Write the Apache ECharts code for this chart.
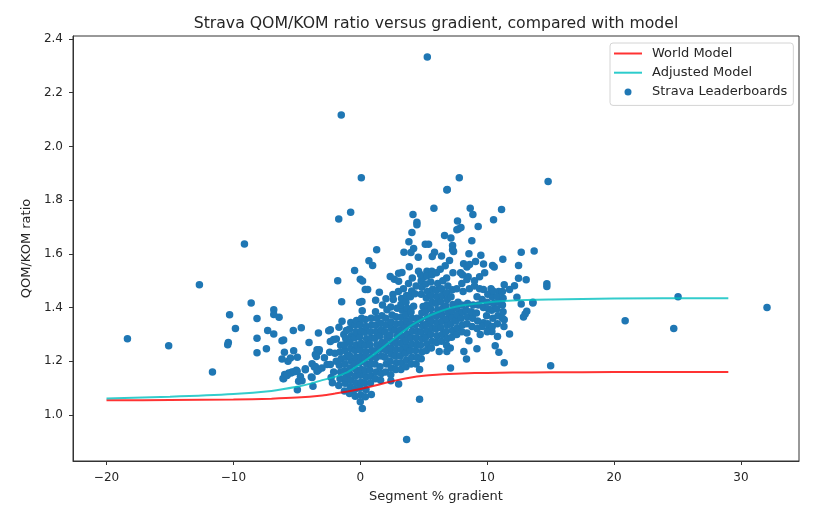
<!DOCTYPE html>
<html><head><meta charset="utf-8">
<style>html,body{margin:0;padding:0;background:#fff}#c{width:839px;height:510px}</style>
<script src="https://cdn.jsdelivr.net/npm/echarts@6/dist/echarts.min.js"></script>
</head><body><div id="c"></div>
<script>
const xTicks=[-20,-10,0,10,20,30];
const yTicks=[1.0,1.2,1.4,1.6,1.8,2.0,2.2,2.4];
const worldModel=[[-20,1.055],[-15,1.056],[-10,1.058],[-7,1.061],[-5,1.065],[-3,1.073],[-2,1.08],[-1,1.088],[0,1.097],[1,1.108],[2,1.12],[3,1.131],[4,1.14],[5,1.146],[6,1.15],[7,1.153],[8,1.155],[10,1.157],[12,1.158],[15,1.159],[20,1.16],[29,1.16]];
const adjustedModel=[[-20,1.062],[-15,1.068],[-10,1.078],[-7,1.09],[-5,1.105],[-4,1.116],[-3,1.13],[-2,1.142],[-1,1.16],[0,1.19],[1,1.223],[2,1.26],[3,1.297],[4,1.333],[5,1.36],[6,1.381],[7,1.397],[8,1.408],[9,1.414],[10,1.419],[12,1.426],[15,1.43],[20,1.434],[29,1.435]];
const outerPoints=[[5.28,2.333],[-1.5,2.117],[.08,1.883],[7.8,1.883],[14.8,1.869],[6.85,1.84],[-9.13,1.637],[-12.68,1.485],[-18.35,1.284],[-15.1,1.258],[-11.65,1.16],[-10.3,1.373],[-9.84,1.322],[-10.4,1.27],[-10.45,1.262],[20.87,1.351],[25.04,1.44],[24.7,1.322],[32.05,1.4],[15,1.184],[13.7,1.611],[13.6,1.42],
[6.82,1.838],[5.8,1.77],[-.76,1.755],[-1.7,1.73],[8.66,1.77],[8.87,1.747],[4.15,1.747],[11.13,1.765],[10.5,1.727],[4.46,1.718],[4.46,1.708],[7.66,1.722],[9.29,1.702],[7.74,1.693],[7.93,1.698],[7.61,1.69],[4.07,1.68],[6.64,1.668],[7.14,1.659],[8.79,1.649],[3.83,1.645],[5.12,1.636],[5.38,1.636],[7.27,1.631],[7.27,1.615],[7.35,1.609],[1.29,1.615],[4.2,1.62],[3.99,1.605],[3.44,1.606],[5.85,1.606],[5.67,1.59],[6.4,1.592],[4.57,1.587],[8.56,1.6],[9.5,1.595],[12.68,1.606],[11.23,1.58],[.68,1.574],[.97,1.557],[7.03,1.575],[6.69,1.556],[6.3,1.543],[8.14,1.563],[8.4,1.551],[8.61,1.56],[9.08,1.572],[9.71,1.562],[10.42,1.557],[10.55,1.551],[12.47,1.557],[3.86,1.552],[-.45,1.538],[3.02,1.528],[3.28,1.531],[4.59,1.535],[5.25,1.535],[5.64,1.535],[2.36,1.516],[2.68,1.506],[3.02,1.498],
[-8.6,1.417],[-8.14,1.359],[-8.14,1.286],[-8.14,1.232],[-7.4,1.247],[-7.3,1.315],[-6.82,1.392],[-6.82,1.374],[-6.4,1.364],[-6.82,1.302],[-6.17,1.277],[-6.04,1.279],[-5.28,1.315],[-4.65,1.325],[-3.3,1.305],[-4.04,1.27],[-5.98,1.234],[-6.17,1.209],[-5.7,1.2],[-5.5,1.212],[-5.25,1.239],[-4.96,1.215],[-2.36,1.318],[-2.49,1.314],[-1.68,1.327],[-1.44,1.349],[-1.78,1.5],[-1.47,1.422],[0,1.506],[.18,1.499],[.39,1.467],[.58,1.467],[1.5,1.457],[-.05,1.42],[.13,1.423],[1.21,1.427],[2.02,1.433],[2.57,1.449],[-2.36,1.274],[-2.1,1.281],[-1.89,1.283],[-3.41,1.243],[-3.28,1.237],[-3.54,1.225],[-2.41,1.234],[-2.83,1.213],[-3.8,1.191],[-3.54,1.181],[-3.28,1.169],[-3.02,1.175],[-2.36,1.188],[-4.33,1.172],[-5.04,1.167],[-5.38,1.16],[-5.64,1.157],[-5.96,1.151],[-6.09,1.136],[-4.72,1.144],[-4.59,1.128],[-3.86,1.142],[-3.73,1.107],[-4.96,1.094],[4.67,1.059],[.16,1.024],[3.65,.909],[.87,1.077],[3.02,1.116],[2.41,1.128],[4.67,1.17],[7.11,1.175],[8.37,1.209],[8.16,1.237],[9.19,1.247],[8.56,1.277],[11.34,1.195],[10.92,1.234],[10.63,1.258],[11.76,1.302],[10.81,1.292],[8.4,1.305],[6.22,1.237],[6.82,1.237],[7.09,1.25],[13.12,1.386],[12.99,1.376],[12.86,1.365],[13.6,1.417],[12.68,1.413],[12.34,1.439],[12.15,1.481],[11.76,1.467],[11.34,1.485],[12.47,1.509],[13.07,1.504],[14.7,1.489],[14.7,1.479],
[4.1,1.51],[5,1.515],[6.8,1.51],[7.9,1.53],[8.5,1.515],[9,1.5],[9.4,1.515],[9.8,1.53],[10.3,1.47],[10.9,1.46],
[-3.23,1.243],[-3.46,1.218],[-3.62,1.179],[-2.62,1.188],[-3.41,1.163],[-6.04,1.135],[-5.77,1.147],[-5.46,1.157],[-5.2,1.161],[-4.98,1.163],[-4.86,1.126],[-4.33,1.169],[-3.8,1.14],
[10.1,1.318],[10.37,1.311],[11.32,1.33],[11.34,1.355],[9.45,1.3],[9.71,1.344]];
const corePoints=[
[-2.3,1.14],[-2.1,1.16],[-2.2,1.12],[-1.9,1.2],[-2,1.23],[-1.7,1.11],[-1.6,1.135],[-1.55,1.16],[-1.65,1.185],[-1.5,1.21],[-1.6,1.235],[-1.55,1.26],[-1.3,1.3],
[-1.25,1.09],[-1.2,1.118],[-1.15,1.14],[-1.25,1.165],[-1.2,1.19],[-1.1,1.215],[-1.2,1.24],[-1.25,1.262],[-1.15,1.285],[-1.1,1.315],
[-.85,1.08],[-.8,1.105],[-.75,1.13],[-.85,1.155],[-.8,1.175],[-.7,1.2],[-.85,1.222],[-.75,1.248],[-.8,1.27],[-.7,1.295],[-.85,1.32],[-.75,1.345],
[-.4,1.07],[-.45,1.095],[-.35,1.12],[-.4,1.145],[-.3,1.168],[-.45,1.192],[-.35,1.215],[-.4,1.24],[-.3,1.262],[-.45,1.288],[-.35,1.31],[-.4,1.335],[-.3,1.352],
[0,1.05],[.05,1.075],[-.05,1.1],[.05,1.122],[0,1.148],[.1,1.17],[-.05,1.195],[.05,1.218],[0,1.242],[.08,1.266],[-.05,1.29],[.05,1.312],[0,1.336],[.1,1.36],[.15,1.388],
[.4,1.068],[.45,1.095],[.35,1.118],[.45,1.142],[.4,1.165],[.5,1.19],[.35,1.212],[.45,1.236],[.4,1.26],[.5,1.284],[.35,1.308],[.45,1.33],[.4,1.356],
[.8,1.12],[.85,1.145],[.75,1.168],[.85,1.192],[.8,1.215],[.9,1.24],[.75,1.262],[.85,1.286],[.8,1.31],[.9,1.335],[.85,1.36],
[1.2,1.135],[1.25,1.16],[1.15,1.19],[1.25,1.214],[1.2,1.238],[1.3,1.262],[1.15,1.286],[1.25,1.31],[1.2,1.334],[1.3,1.36],[1.2,1.385],
[1.6,1.13],[1.65,1.155],[1.55,1.18],[1.65,1.22],[1.6,1.245],[1.7,1.27],[1.55,1.294],[1.65,1.318],[1.6,1.342],[1.7,1.37],[1.75,1.41],
[2,1.16],[2.05,1.19],[1.95,1.215],[2.05,1.24],[2,1.264],[2.1,1.288],[1.95,1.31],[2.05,1.335],[2,1.36],[2.1,1.392],
[2.4,1.15],[2.45,1.175],[2.35,1.2],[2.45,1.226],[2.4,1.25],[2.5,1.274],[2.35,1.298],[2.45,1.322],[2.4,1.346],[2.5,1.372],[2.4,1.402],[2.6,1.43],
[2.8,1.17],[2.85,1.195],[2.75,1.22],[2.85,1.244],[2.8,1.268],[2.9,1.292],[2.75,1.316],[2.85,1.34],[2.8,1.366],[2.9,1.398],[3,1.46],
[3.2,1.17],[3.25,1.195],[3.15,1.22],[3.25,1.244],[3.2,1.268],[3.3,1.292],[3.15,1.316],[3.25,1.34],[3.2,1.364],[3.3,1.39],[3.2,1.412],[3.25,1.434],[3.4,1.47],
[3.6,1.18],[3.65,1.205],[3.55,1.23],[3.65,1.254],[3.6,1.278],[3.7,1.302],[3.55,1.326],[3.65,1.35],[3.6,1.374],[3.7,1.398],[3.6,1.42],[3.65,1.445],[3.8,1.49],
[4,1.19],[4.05,1.215],[3.95,1.24],[4.05,1.264],[4,1.288],[4.1,1.312],[3.95,1.336],[4.05,1.36],[4,1.384],[3.95,1.44],[4.05,1.462],
[4.4,1.19],[4.45,1.215],[4.35,1.24],[4.45,1.264],[4.4,1.288],[4.5,1.312],[4.35,1.336],[4.45,1.36],[4.2,1.405],[4.3,1.452],[4.4,1.48],
[4.8,1.21],[4.85,1.235],[4.75,1.26],[4.85,1.284],[4.8,1.308],[4.9,1.332],[4.75,1.356],[4.85,1.38],[4.95,1.404],[4.8,1.45],[4.85,1.476],[4.8,1.5],[4.75,1.522],
[5.2,1.24],[5.25,1.265],[5.15,1.29],[5.25,1.314],[5.2,1.338],[5.3,1.362],[5.15,1.386],[5.25,1.41],[5.2,1.436],[5.3,1.46],[5.15,1.488],[5.25,1.518],
[5.6,1.25],[5.65,1.275],[5.55,1.3],[5.65,1.324],[5.6,1.348],[5.7,1.372],[5.55,1.396],[5.65,1.42],[5.6,1.444],[5.7,1.468],[5.55,1.495],[5.65,1.522],
[6,1.27],[6.05,1.295],[5.95,1.32],[6.05,1.344],[6,1.368],[6.1,1.392],[5.95,1.416],[6.05,1.44],[6,1.464],[6.1,1.49],[6,1.53],
[6.4,1.275],[6.45,1.3],[6.35,1.325],[6.45,1.349],[6.4,1.373],[6.5,1.397],[6.35,1.421],[6.45,1.445],[6.4,1.47],[6.5,1.5],
[6.8,1.26],[6.85,1.285],[6.75,1.31],[6.85,1.334],[6.8,1.358],[6.9,1.382],[6.75,1.406],[6.85,1.43],[6.8,1.455],[6.9,1.48],
[7.2,1.29],[7.25,1.315],[7.15,1.34],[7.25,1.364],[7.2,1.388],[7.3,1.412],[7.15,1.44],[7.25,1.466],[7.3,1.53],
[7.6,1.3],[7.65,1.325],[7.55,1.35],[7.65,1.374],[7.6,1.398],[7.7,1.42],[7.6,1.47],
[8,1.31],[8.05,1.335],[7.95,1.36],[8.05,1.384],[8,1.41],[8.1,1.46],[8,1.49],[8.05,1.522],
[8.4,1.34],[8.45,1.365],[8.35,1.39],[8.45,1.415],[8.4,1.505],[8.6,1.47],
[8.8,1.33],[8.85,1.36],[8.75,1.385],[8.9,1.41],[9,1.48],
[9.2,1.322],[9.25,1.35],[9.15,1.38],[9.3,1.41],[9.2,1.44],[9.4,1.47],
[9.6,1.33],[9.7,1.4],[9.6,1.43],[9.7,1.467],
[10,1.31],[10.05,1.34],[9.95,1.37],[10.1,1.395],[10,1.42],[10.05,1.45],
[10.4,1.33],[10.45,1.36],[10.35,1.39],[10.5,1.415],[10.4,1.44],[10.45,1.462],
[10.8,1.34],[10.85,1.37],[10.75,1.395],[10.9,1.42],[10.8,1.44],
[11.2,1.36],[11.25,1.385],[11.2,1.41],[11.25,1.435],[11.2,1.46]];
const fmt=v=>String(v).replace('-','\u2212');
const flatIcon='path://M0 0H28V2H0Z';
const axisBase={
  axisLine:{show:true,onZero:false,lineStyle:{color:'#333',width:1}},
  axisTick:{show:true,length:4,lineStyle:{color:'#333',width:1}},
  splitLine:{show:false},
  nameTextStyle:{color:'#262626',fontSize:13,fontFamily:'DejaVu Sans'}
};
const lbl={color:'#262626',fontSize:12,fontFamily:'DejaVu Sans'};
const chart=echarts.init(document.getElementById('c'),null,{renderer:'canvas'});
chart.setOption({
  animation:false,
  backgroundColor:'#fff',
  title:{text:'Strava QOM/KOM ratio versus gradient, compared with model',left:431,top:11,textAlign:'center',
    textStyle:{color:'#262626',fontSize:15.7,fontWeight:'normal',fontFamily:'DejaVu Sans'}},
  grid:{left:73,top:36,width:726,height:425,show:true,borderColor:'#333',borderWidth:1,backgroundColor:'#fff'},
  legend:{left:610,top:43,orient:'vertical',itemWidth:28,itemHeight:7,itemGap:6.2,padding:[4,6,7,4],
    backgroundColor:'#fff',borderColor:'#d4d4d4',borderWidth:1,borderRadius:3,
    textStyle:{color:'#262626',fontSize:13,fontFamily:'DejaVu Sans',padding:[0,0,0,5]},
    data:[{name:'World Model',icon:flatIcon,itemStyle:{color:'#ff3333'}},{name:'Adjusted Model',icon:flatIcon,itemStyle:{color:'#2ccccc'}},{name:'Strava Leaderboards',icon:'circle'}]},
  xAxis:Object.assign({},axisBase,{type:'value',min:-22.64,max:34.57,name:'Segment % gradient',nameLocation:'middle',nameGap:29,
    axisTick:Object.assign({},axisBase.axisTick,{customValues:xTicks}),
    axisLabel:Object.assign({},lbl,{margin:11,customValues:xTicks,formatter:fmt})}),
  yAxis:Object.assign({},axisBase,{type:'value',min:.829,max:2.411,name:'QOM/KOM ratio',nameLocation:'middle',nameGap:34,
    axisTick:Object.assign({},axisBase.axisTick,{customValues:yTicks}),
    axisLabel:Object.assign({},lbl,{margin:10,padding:[8,0,0,0],customValues:yTicks,formatter:v=>v.toFixed(1)})}),
  series:[
    {name:'Strava Leaderboards',type:'scatter',z:2,symbolSize:7.5,itemStyle:{color:'#1f77b4',opacity:1},data:outerPoints.concat(corePoints)},
    {name:'World Model',type:'line',z:3,smooth:.3,showSymbol:false,symbol:'none',lineStyle:{color:'rgba(255,0,0,.8)',width:2},itemStyle:{color:'#ff3333'},data:worldModel},
    {name:'Adjusted Model',type:'line',z:3,smooth:.3,showSymbol:false,symbol:'none',lineStyle:{color:'rgba(0,191,191,.8)',width:2},itemStyle:{color:'#2ccccc'},data:adjustedModel}
  ]
});
</script></body></html>
